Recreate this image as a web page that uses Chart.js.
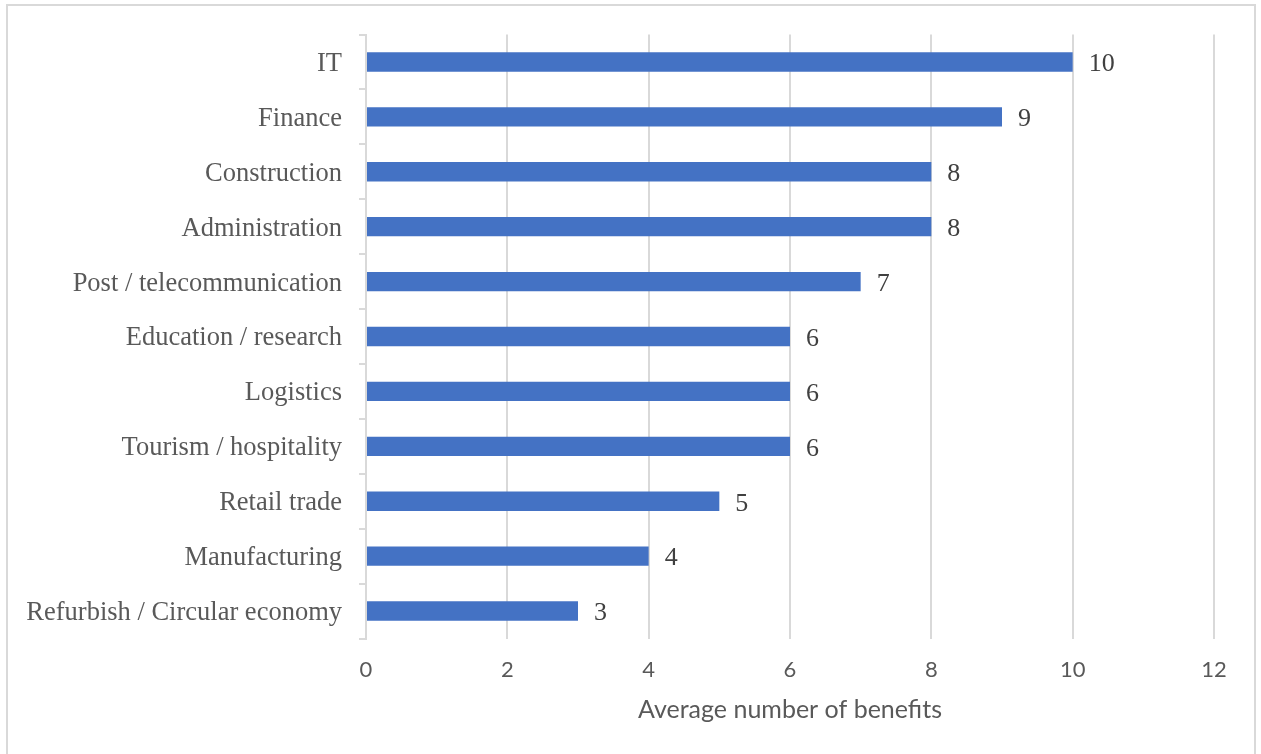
<!DOCTYPE html>
<html>
<head>
<meta charset="utf-8">
<title>Average number of benefits by sector</title>
<script src="https://cdn.jsdelivr.net/npm/chart.js@4"></script>
<style>
  html, body { margin: 0; padding: 0; background: #fff; }
  #wrap { position: relative; width: 1261px; height: 754px; }
</style>
</head>
<body>
<div id="wrap"><canvas id="benefitsChart" width="1261" height="754"></canvas></div>
<script>
// sectors, top to bottom
const sectors = [
  'IT', 'Finance', 'Construction', 'Administration', 'Post / telecommunication',
  'Education / research', 'Logistics', 'Tourism / hospitality', 'Retail trade',
  'Manufacturing', 'Refurbish / Circular economy'
];
const avgBenefits = [10, 9, 8, 8, 7, 6, 6, 6, 5, 4, 3];
const xTicks = [0, 2, 4, 6, 8, 10, 12];

const SERIF = '"Liberation Serif", "Times New Roman", serif';
const SANS = 'Lato, "Liberation Sans", sans-serif';

// light frame round the whole chart
const framePlugin = {
  id: 'frame',
  beforeDraw(chart) {
    const ctx = chart.ctx;
    ctx.save();
    ctx.fillStyle = '#fff';
    ctx.fillRect(0, 0, chart.width, chart.height);
    ctx.strokeStyle = '#d9d9d9';
    ctx.lineWidth = 2;
    ctx.strokeRect(7, 5, 1248, 760);
    ctx.restore();
  }
};

// value printed just past the end of each bar
const valueLabels = {
  id: 'valueLabels',
  afterDatasetsDraw(chart) {
    const ctx = chart.ctx;
    const meta = chart.getDatasetMeta(0);
    ctx.save();
    ctx.font = '26px ' + SERIF;
    ctx.fillStyle = '#404040';
    ctx.textAlign = 'left';
    ctx.textBaseline = 'middle';
    meta.data.forEach((bar, i) => {
      ctx.fillText(String(avgBenefits[i]), bar.x + 16, bar.y + 2.5);
    });
    ctx.restore();
  }
};

new Chart(document.getElementById('benefitsChart'), {
  type: 'bar',
  data: {
    labels: sectors,
    datasets: [{
      data: avgBenefits,
      backgroundColor: '#4472c4',
      barPercentage: 0.353,
      categoryPercentage: 1
    }]
  },
  options: {
    indexAxis: 'y',
    responsive: false,
    animation: false,
    layout: { padding: { top: 34.5, right: 47, left: 0, bottom: 0 } },
    plugins: { legend: { display: false }, tooltip: { enabled: false } },
    scales: {
      x: {
        min: 0,
        max: 12,
        afterBuildTicks: scale => { scale.ticks = xTicks.map(v => ({ value: v })); },
        afterFit: scale => { scale.height = 115.5; },
        grid: { color: '#d9d9d9', lineWidth: 2, drawTicks: false },
        border: { display: false },
        ticks: { padding: 18, color: '#595959', font: { family: SANS, size: 22 } },
        title: {
          display: true,
          text: 'Average number of benefits',
          color: '#595959',
          font: { family: SANS, size: 25 },
          padding: { top: 0, bottom: 29 }
        }
      },
      y: {
        afterFit: scale => { scale.width = 366; },
        grid: { drawOnChartArea: false, drawTicks: true, tickLength: 7, color: '#d9d9d9', lineWidth: 2 },
        border: { display: true, color: '#d9d9d9', width: 2 },
        ticks: { padding: 17, labelOffset: 2, color: '#595959', font: { family: SERIF, size: 26.5 } }
      }
    }
  },
  plugins: [framePlugin, valueLabels]
});
</script>
</body>
</html>
